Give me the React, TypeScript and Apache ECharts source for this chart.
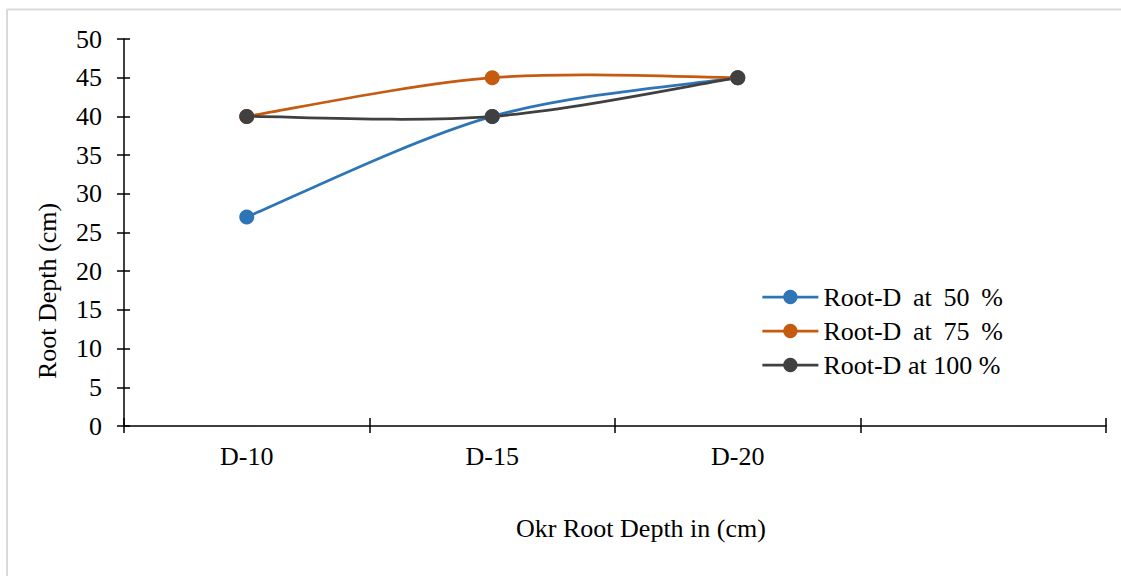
import React, { useEffect, useRef } from "react";
import * as echarts from "echarts";

const categories = ["D-10", "D-15", "D-20", ""];
const seriesNames = ["Root-D\u2009 at\u2009 50\u2009 %", "Root-D\u2009 at\u2009 75\u2009 %", "Root-D at 100 %"];
const root50 = [27, 40, 45];
const root75 = [40, 45, 45];
const root100 = [40, 40, 45];
const colors = ["#2E75B6", "#C55A11", "#404040"];
const yMin = 0;
const yMax = 50;
const yStep = 5;
const xTitle = "Okr Root Depth in (cm)";
const yTitle = "Root Depth (cm)";

const FONT = "'Liberation Serif', 'Times New Roman', serif";
const FS = 26;
const LW = 2.75;

export default function App() {
  const ref = useRef<HTMLDivElement>(null);
  useEffect(() => {
    if (!ref.current) return;
    const chart = echarts.init(ref.current, null, { renderer: "svg" });
    const values = [root50, root75, root100];
    const axisColor = "#000";

    const curveSeries = values.map((vals, si) => ({
      name: "curve-" + si,
      type: "custom",
      coordinateSystem: "cartesian2d",
      xAxisIndex: 0,
      yAxisIndex: 0,
      clip: false,
      silent: true,
      z: 2 + si,
      data: vals.map((v, i) => [i, v]),
      encode: { x: 0, y: 1 },
      renderItem: (params: any, api: any) => {
        const i = params.dataIndex;
        const n = vals.length;
        if (i >= n - 1) return null;
        const P = (k: number) => {
          const kk = Math.max(0, Math.min(n - 1, k));
          return api.coord([kk, vals[kk]]);
        };
        const p0 = P(i - 1);
        const p1 = P(i);
        const p2 = P(i + 1);
        const p3 = P(i + 2);
        const cp1 = [p1[0] + (p2[0] - p0[0]) / 6, p1[1] + (p2[1] - p0[1]) / 6];
        const cp2 = [p2[0] - (p3[0] - p1[0]) / 6, p2[1] - (p3[1] - p1[1]) / 6];
        return {
          type: "bezierCurve",
          shape: {
            x1: p1[0],
            y1: p1[1],
            cpx1: cp1[0],
            cpy1: cp1[1],
            cpx2: cp2[0],
            cpy2: cp2[1],
            x2: p2[0],
            y2: p2[1],
          },
          style: { stroke: colors[si], lineWidth: LW, fill: "none", lineCap: "round" },
        };
      },
    }));

    const pointSeries = seriesNames.map((name, i) => ({
      name,
      type: "line",
      xAxisIndex: 0,
      yAxisIndex: 0,
      data: values[i],
      symbol: "circle",
      symbolSize: 15,
      showSymbol: true,
      color: colors[i],
      lineStyle: { color: colors[i], width: LW, opacity: 0 },
      itemStyle: { color: colors[i] },
      z: 10 + i,
    }));

    chart.setOption({
      animation: false,
      backgroundColor: "#fff",
      textStyle: { fontFamily: FONT },
      grid: { left: 124, right: 15, top: 39, bottom: 150, containLabel: false },
      xAxis: [
        {
          type: "category",
          data: categories,
          boundaryGap: true,
          position: "bottom",
          axisLine: { show: true, lineStyle: { color: axisColor, width: 1.5 } },
          axisTick: { show: true, inside: false, length: 7, lineStyle: { color: axisColor, width: 1.5 } },
          axisLabel: { color: "#000", fontSize: FS, fontFamily: FONT, margin: 17 },
          splitLine: { show: false },
        },
        {
          type: "category",
          data: categories,
          boundaryGap: true,
          position: "bottom",
          axisLine: { show: false },
          axisTick: { show: true, inside: true, length: 8, lineStyle: { color: axisColor, width: 1.5 } },
          axisLabel: { show: false },
          splitLine: { show: false },
        },
      ],
      yAxis: [
        {
          type: "value",
          min: yMin,
          max: yMax,
          interval: yStep,
          position: "left",
          axisLine: { show: true, lineStyle: { color: axisColor, width: 1.5 } },
          axisTick: { show: true, inside: false, length: 7, lineStyle: { color: axisColor, width: 1.5 } },
          axisLabel: { color: "#000", fontSize: FS, fontFamily: FONT, margin: 22 },
          splitLine: { show: false },
        },
        {
          type: "value",
          min: yMin,
          max: yMax,
          interval: yStep,
          position: "left",
          axisLine: { show: false },
          axisTick: { show: true, inside: true, length: 6, lineStyle: { color: axisColor, width: 1.5 } },
          axisLabel: { show: false },
          splitLine: { show: false },
        },
      ],
      legend: {
        orient: "vertical",
        left: 756,
        top: 279,
        itemWidth: 56,
        itemHeight: 18,
        itemGap: 8,
        itemStyle: {},
        textStyle: { fontSize: FS, fontFamily: FONT, color: "#000", lineHeight: 26 },
        data: seriesNames.map((name, i) => ({
          name,
          lineStyle: { color: colors[i], width: LW, opacity: 1 },
          itemStyle: { color: colors[i] },
        })),
      },
      series: [...curveSeries, ...pointSeries],
      graphic: [
        { type: "line", shape: { x1: 7, y1: 9.5, x2: 1121, y2: 9.5 }, style: { stroke: "#d9d9d9", lineWidth: 2 } },
        { type: "line", shape: { x1: 7, y1: 9.5, x2: 7, y2: 576 }, style: { stroke: "#d9d9d9", lineWidth: 2 } },
        {
          type: "text",
          x: 47,
          y: 291,
          rotation: Math.PI / 2,
          style: { text: yTitle, font: `${FS}px ${FONT}`, fill: "#000", textAlign: "center", textVerticalAlign: "middle" },
        },
        {
          type: "text",
          x: 641,
          y: 528,
          style: { text: xTitle, font: `${FS}px ${FONT}`, fill: "#000", textAlign: "center", textVerticalAlign: "middle" },
        },
      ],
    });
    return () => chart.dispose();
  }, []);
  return (
    <div
      ref={ref}
      style={{ position: "fixed", left: 0, top: 0, width: 1121, height: 576 }}
    />
  );
}
